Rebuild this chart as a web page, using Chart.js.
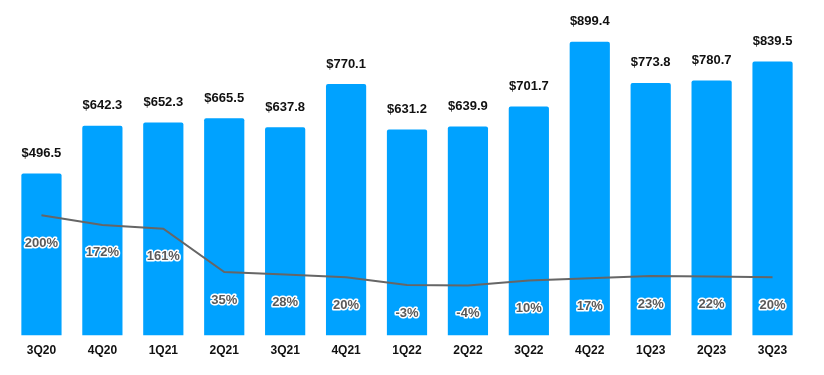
<!DOCTYPE html>
<html>
<head>
<meta charset="utf-8">
<script src="https://cdn.jsdelivr.net/npm/chart.js@4"></script>
<style>
  html, body { margin: 0; padding: 0; background: #fff; }
  #wrap { width: 824px; height: 375px; }
</style>
</head>
<body>
<div id="wrap"><canvas id="chart"></canvas></div>
<script>
const quarters = ["3Q20", "4Q20", "1Q21", "2Q21", "3Q21", "4Q21", "1Q22", "2Q22", "3Q22", "4Q22", "1Q23", "2Q23", "3Q23"];
const revenue = [496.5, 642.3, 652.3, 665.5, 637.8, 770.1, 631.2, 639.9, 701.7, 899.4, 773.8, 780.7, 839.5];
const growth = [200, 172, 161, 35, 28, 20, -3, -4, 10, 17, 23, 22, 20];

const labelFont = 'bold 13px "Liberation Sans", Arial, sans-serif';
const pctFont = 'bold 13px "Liberation Sans", Arial, sans-serif';

// value labels above bars, growth labels with white halo inside the bars
const labelPlugin = {
    id: "labels",
    afterDatasetsDraw(chart) {
        const ctx = chart.ctx;
        const bars = chart.getDatasetMeta(1).data;
        const pts = chart.getDatasetMeta(0).data;
        ctx.save();
        ctx.textAlign = "center";
        ctx.textBaseline = "middle";
        ctx.font = labelFont;
        ctx.fillStyle = "#111";
        bars.forEach((bar, i) => {
            ctx.fillText("$" + revenue[i].toFixed(1), bar.x, bar.y - 20);
        });
        ctx.font = pctFont;
        ctx.lineJoin = "round";
        pts.forEach((pt, i) => {
            const txt = growth[i] + "%";
            const y = pt.y + 28;
            ctx.strokeStyle = "#fff";
            ctx.lineWidth = 3;
            ctx.strokeText(txt, pt.x, y);
            ctx.fillStyle = "#5a5a5a";
            ctx.fillText(txt, pt.x, y);
        });
        ctx.restore();
    }
};

new Chart(document.getElementById("chart"), {
    type: "bar",
    data: {
        labels: quarters,
        datasets: [
            {
                type: "line",
                label: "Growth",
                data: growth,
                yAxisID: "y1",
                borderColor: "#666666",
                borderWidth: 2,
                pointRadius: 0,
                tension: 0,
                order: 0,
            },
            {
                label: "Revenue",
                data: revenue,
                yAxisID: "y",
                backgroundColor: "#00A2FF",
                borderRadius: { topLeft: 2, topRight: 2 },
                borderSkipped: "bottom",
                categoryPercentage: 1,
                barPercentage: 0.66,
                order: 1,
            },
        ],
    },
    options: {
        responsive: true,
        maintainAspectRatio: false,
        animation: false,
        layout: { padding: { left: 11, right: 21, top: 9, bottom: 9 } },
        plugins: { legend: { display: false }, tooltip: { enabled: false } },
        scales: {
            x: {
                grid: { display: false, drawTicks: false },
                border: { display: false },
                ticks: {
                    padding: 8,
                    color: "#111",
                    font: { family: '"Liberation Sans", Arial, sans-serif', size: 12, weight: "bold" },
                },
            },
            y: { display: false, min: 0, max: 1000 },
            y1: { display: false, min: -150, max: 800 },
        },
    },
    plugins: [labelPlugin],
});
</script>
</body>
</html>
